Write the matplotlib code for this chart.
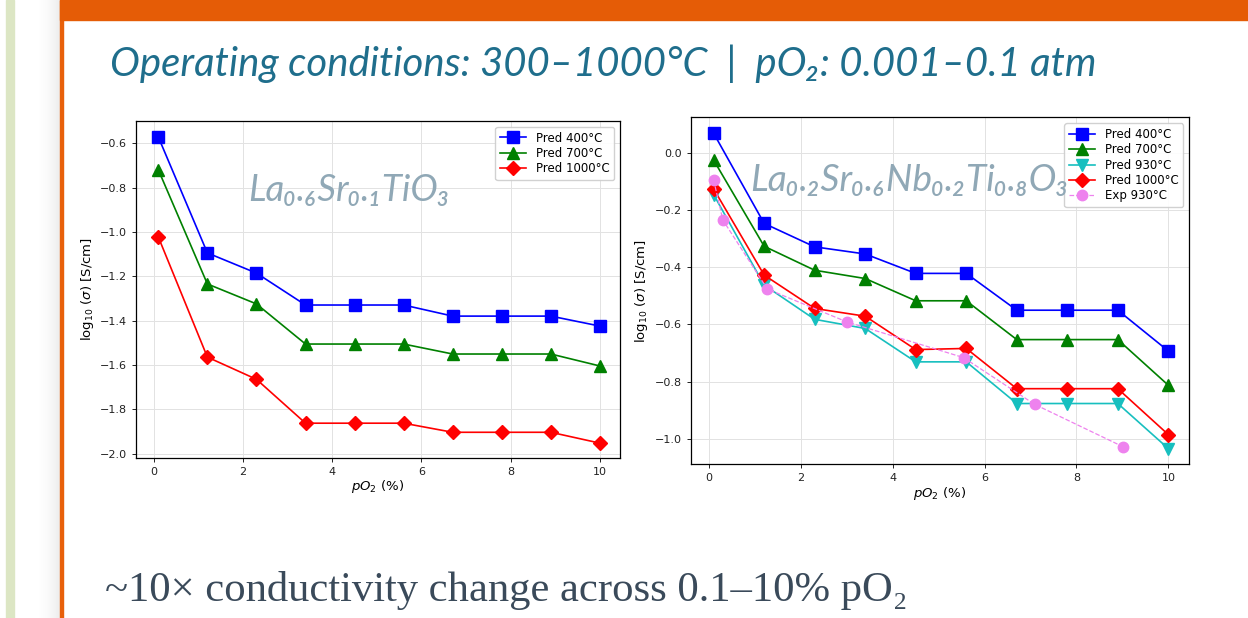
import matplotlib
matplotlib.use("Agg")
import matplotlib.pyplot as plt
from matplotlib.patches import Rectangle
import numpy as np

# ---------------------------------------------------------------
# Data
po2 = [0.1, 1.2, 2.3, 3.4, 4.5, 5.6, 6.7, 7.8, 8.9, 10.0]

# La0.6Sr0.1TiO3
lst_400 = [-0.572, -1.095, -1.186, -1.330, -1.330, -1.330, -1.380, -1.380, -1.380, -1.425]
lst_700 = [-0.720, -1.235, -1.325, -1.506, -1.506, -1.506, -1.551, -1.551, -1.551, -1.605]
lst_1000 = [-1.023, -1.565, -1.665, -1.863, -1.863, -1.863, -1.904, -1.904, -1.904, -1.953]

# La0.2Sr0.6Nb0.2Ti0.8O3
lsnt_400 = [0.070, -0.246, -0.328, -0.353, -0.421, -0.421, -0.550, -0.550, -0.550, -0.693]
lsnt_700 = [-0.024, -0.326, -0.410, -0.439, -0.517, -0.517, -0.653, -0.653, -0.653, -0.813]
lsnt_930 = [-0.145, -0.462, -0.582, -0.614, -0.731, -0.731, -0.877, -0.877, -0.877, -1.035]
lsnt_1000 = [-0.125, -0.427, -0.544, -0.571, -0.688, -0.684, -0.825, -0.825, -0.825, -0.986]
exp_po2 = [0.1, 0.3, 1.27, 3.0, 5.54, 7.09, 9.02]
exp_930 = [-0.094, -0.234, -0.476, -0.591, -0.716, -0.880, -1.029]

TITLE = "Operating conditions: 300\u20131000\u00b0C  |  pO\u2082: 0.001\u20130.1 atm"
FOOTER = "~10\u00d7 conductivity change across 0.1\u201310% pO\u2082"
LABEL_LEFT = "La\u2080.\u2086Sr\u2080.\u2081TiO\u2083"
LABEL_RIGHT = "La\u2080.\u2082Sr\u2080.\u2086Nb\u2080.\u2082Ti\u2080.\u2088O\u2083"

# ---------------------------------------------------------------
fig = plt.figure(figsize=(12.48, 6.18), dpi=100)
fig.patch.set_facecolor("white")

# slide decoration
fig.patches.append(Rectangle((6 / 1248, 0), 8 / 1248, 1, transform=fig.transFigure,
                             color="#dce6c4", zorder=0))
for i in range(25):
    g = 1.0 - 0.07 * (i / 24.0) ** 2
    fig.patches.append(Rectangle(((35 + i) / 1248, 0), 1 / 1248, 1, transform=fig.transFigure,
                                 color=(g, g, g), zorder=0))
fig.patches.append(Rectangle((60 / 1248, 0), 2.5 / 1248, 1, transform=fig.transFigure,
                             color="#e8600a", zorder=0))
fig.patches.append(Rectangle((60 / 1248, 1 - 20 / 618), 1 - 60 / 1248, 20 / 618,
                             transform=fig.transFigure, color="#e55c06", zorder=0))

fig.text(110 / 1248, 1 - 76 / 618, TITLE, fontsize=28.9, style="italic",
         family="Lato", color="#1f6e8c", ha="left", va="baseline")
fig.text(105 / 1248, 1 - 601 / 618, FOOTER, fontsize=30.7,
         family="Liberation Serif", color="#3a4a5a", ha="left", va="baseline")


def style_axes(ax):
    ax.grid(True, color="#e2e2e2", linewidth=0.7)
    ax.set_axisbelow(True)
    ax.tick_params(labelsize=8, length=3, width=0.7, colors="#222222")
    for s in ax.spines.values():
        s.set_linewidth(0.9)
    ax.set_xlabel("$pO_2$ (%)", fontsize=9.5, labelpad=1)
    ax.set_ylabel(r"log$_{10}$ ($\sigma$) [S/cm]", fontsize=9.5, labelpad=3)
    ax.set_xticks([0, 2, 4, 6, 8, 10])


# left chart
ax1 = fig.add_axes([136 / 1248, 1 - 458 / 618, 484 / 1248, 337 / 618])
ax1.plot(po2, lst_400, color="blue", marker="s", ms=9, lw=1.2, label="Pred 400\u00b0C")
ax1.plot(po2, lst_700, color="green", marker="^", ms=9, lw=1.2, label="Pred 700\u00b0C")
ax1.plot(po2, lst_1000, color="red", marker="D", ms=7.5, lw=1.2, label="Pred 1000\u00b0C")
style_axes(ax1)
ax1.set_xlim(-0.4, 10.45)
ax1.set_ylim(-2.02, -0.50)
ax1.set_yticks(np.arange(-2.0, -0.5, 0.2))
ax1.legend(loc="upper right", fontsize=8.5, handlelength=2.2, borderpad=0.4,
           labelspacing=0.2, framealpha=0.9)
fig.text(248 / 1248, 1 - 190 / 618, LABEL_LEFT, fontsize=26.5, style="italic",
         family="Lato", color="#90a8b6", ha="left", va="center")

# right chart
ax2 = fig.add_axes([690.7 / 1248, 1 - 464.3 / 618, 498.3 / 1248, 347 / 618])
ax2.plot(po2, lsnt_400, color="blue", marker="s", ms=8.5, lw=1.2, label="Pred 400\u00b0C")
ax2.plot(po2, lsnt_700, color="green", marker="^", ms=8.5, lw=1.2, label="Pred 700\u00b0C")
ax2.plot(po2, lsnt_930, color="#17bfbf", marker="v", ms=8.5, lw=1.2, label="Pred 930\u00b0C")
ax2.plot(po2, lsnt_1000, color="red", marker="D", ms=7, lw=1.2, label="Pred 1000\u00b0C")
ax2.plot(exp_po2, exp_930, color="violet", marker="o", ms=7.5, lw=0.9, ls="--",
         label="Exp 930\u00b0C")
style_axes(ax2)
ax2.set_xlim(-0.4, 10.45)
ax2.set_ylim(-1.09, 0.126)
ax2.set_yticks([-1.0, -0.8, -0.6, -0.4, -0.2, 0.0])
ax2.legend(loc="upper right", fontsize=8.5, handlelength=2.2, borderpad=0.4,
           labelspacing=0.2, framealpha=0.9)
fig.text(750 / 1248, 1 - 180 / 618, LABEL_RIGHT, fontsize=26.8, style="italic",
         family="Lato", color="#90a8b6", ha="left", va="center", zorder=5)

fig.savefig("out.png", dpi=100)
